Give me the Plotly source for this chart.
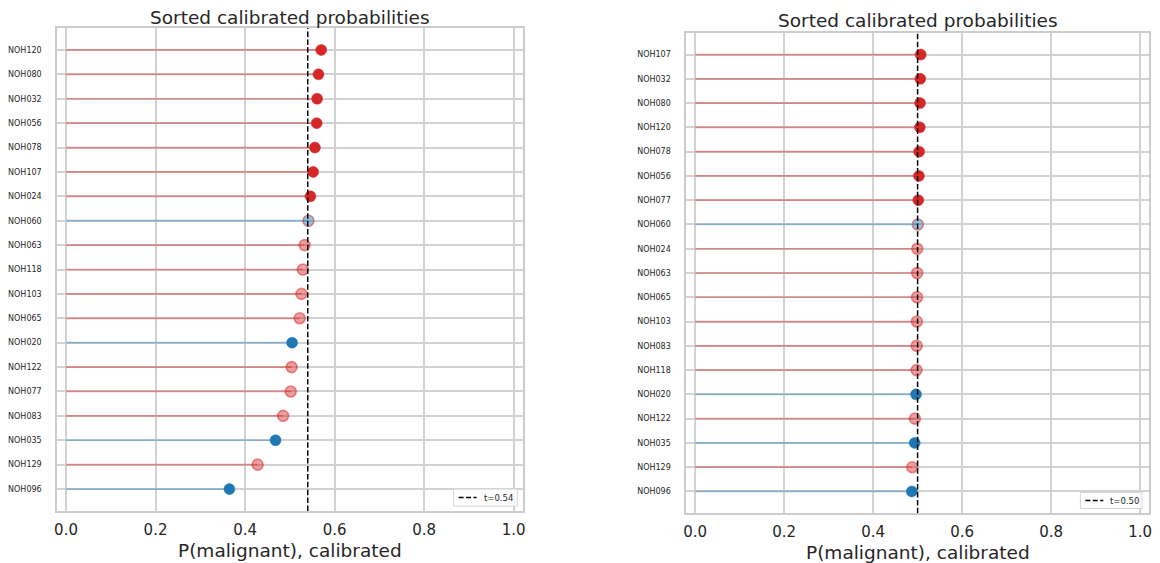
import plotly.graph_objects as go

# ---------------- data ----------------
left_ids = ["NOH120", "NOH080", "NOH032", "NOH056", "NOH078", "NOH107", "NOH024",
            "NOH060", "NOH063", "NOH118", "NOH103", "NOH065", "NOH020", "NOH122",
            "NOH077", "NOH083", "NOH035", "NOH129", "NOH096"]
left_probs = [0.570, 0.564, 0.561, 0.560, 0.556, 0.552, 0.546,
              0.5415, 0.533, 0.529, 0.526, 0.522, 0.505, 0.504,
              0.502, 0.485, 0.468, 0.428, 0.365]
left_threshold = 0.54

right_ids = ["NOH107", "NOH032", "NOH080", "NOH120", "NOH078", "NOH056", "NOH077",
             "NOH060", "NOH024", "NOH063", "NOH065", "NOH103", "NOH083", "NOH118",
             "NOH020", "NOH122", "NOH035", "NOH129", "NOH096"]
right_probs = [0.507, 0.506, 0.5055, 0.505, 0.5035, 0.503, 0.5015,
               0.5005, 0.4992, 0.499, 0.4987, 0.4984, 0.4980, 0.4977,
               0.4965, 0.4940, 0.4935, 0.4880, 0.4870]
right_threshold = 0.50

benign_ids = ["NOH060", "NOH020", "NOH035", "NOH096"]

title_text = "Sorted calibrated probabilities"
xlabel_text = "P(malignant), calibrated"
x_ticks = [0.0, 0.2, 0.4, 0.6, 0.8, 1.0]

# ---------------- style ----------------
RED = (214, 39, 40)
BLUE = (31, 119, 180)
FONT = "DejaVu Sans"
TXT = "#262626"
GRID = "#d2d2d2"
SPINE = "#cccccc"

# page has an 8px body margin: the figure is drawn at (8, 8)
W, H = 1152, 555
OFF = 8


def px(x):
    return (x - OFF) / W


def py(y):
    return 1 - (y - OFF) / H


def rgba(c, a):
    return f"rgba({c[0]},{c[1]},{c[2]},{a})"


YLO, YHI = -0.9, 18.9

fig = go.Figure()

panels = [
    dict(ids=left_ids, probs=left_probs, t=left_threshold, xa="x", ya="y"),
    dict(ids=right_ids, probs=right_probs, t=right_threshold, xa="x2", ya="y2"),
]

for p in panels:
    ids, probs, t = p["ids"], p["probs"], p["t"]
    n = len(ids)
    ypos = [n - 1 - k for k in range(n)]
    # stems
    for col, is_mal, a in ((RED, True, 0.45), (BLUE, False, 0.4)):
        xs, ys = [], []
        for i, v, yy in zip(ids, probs, ypos):
            if (i not in benign_ids) == is_mal:
                xs += [0, v, None]
                ys += [yy, yy, None]
        fig.add_trace(go.Scatter(x=xs, y=ys, mode="lines", xaxis=p["xa"], yaxis=p["ya"],
                                 line=dict(color=rgba(col, a), width=1.7),
                                 showlegend=False, hoverinfo="skip"))
    # markers
    fills, edges, widths = [], [], []
    for i, v in zip(ids, probs):
        mal = i not in benign_ids
        pred = v >= t
        col = RED if mal else BLUE
        if mal == pred:
            fills.append(rgba(col, 1.0))
            edges.append(rgba(col, 1.0))
            widths.append(0.5)
        else:
            fills.append(rgba(col, 0.45))
            edges.append(rgba(RED, 0.5))
            widths.append(1.6)
    fig.add_trace(go.Scatter(x=probs, y=ypos, mode="markers", xaxis=p["xa"], yaxis=p["ya"],
                             text=ids, hoverinfo="text+x",
                             marker=dict(size=11, color=fills,
                                         line=dict(color=edges, width=widths)),
                             showlegend=False))
    # threshold line
    fig.add_trace(go.Scatter(x=[t, t], y=[YLO, YHI], mode="lines", xaxis=p["xa"], yaxis=p["ya"],
                             line=dict(color="black", width=1.5, dash="5.5px,2.4px"),
                             name=f"t={t:.2f}", showlegend=False))

L_dom = [px(54.3), px(522.3)]
R_dom = [px(686.7), px(1152)]
L_ydom = [py(511), py(28)]
R_ydom = [py(513.3), py(32.7)]

xcommon = dict(range=[-0.02, 1.02], tickvals=x_ticks, ticktext=[f"{v:.1f}" for v in x_ticks],
               showgrid=True, gridcolor=GRID, gridwidth=1.5, zeroline=False,
               showline=True, mirror=True, linecolor=SPINE, linewidth=1.6,
               ticks="outside", ticklen=4, tickcolor="rgba(0,0,0,0)",
               tickfont=dict(family=FONT, size=15, color=TXT))


def ycommon(ids):
    n = len(ids)
    return dict(range=[YLO, YHI], tickvals=[n - 1 - k for k in range(n)], ticktext=ids,
                showgrid=True, gridcolor=GRID, gridwidth=1.5, zeroline=False,
                showline=True, mirror=True, linecolor=SPINE, linewidth=1.6,
                ticks="outside", ticklen=12, tickcolor="rgba(0,0,0,0)",
                tickfont=dict(family=FONT, size=8, color=TXT))


# manual legend boxes (matplotlib style, lower right)
legends = [
    dict(box=(453, 489, 517, 506), t=left_threshold),
    dict(box=(1083, 492.5, 1145, 508.5), t=right_threshold),
]
shapes, annotations = [], []
for lg in legends:
    x0, y0, x1, y1 = lg["box"]
    ym = (y0 + y1) / 2
    shapes.append(dict(type="rect", xref="paper", yref="paper",
                       x0=px(x0), x1=px(x1), y0=py(y1), y1=py(y0),
                       fillcolor="rgba(255,255,255,0.85)", line=dict(color="#d6d6d6", width=1)))
    shapes.append(dict(type="line", xref="paper", yref="paper",
                       x0=px(x0 + 5), x1=px(x0 + 23), y0=py(ym), y1=py(ym),
                       line=dict(color="black", width=1.5, dash="5px,2.4px")))
    annotations.append(dict(text=f"t={lg['t']:.2f}", x=px(x0 + 28), y=py(ym),
                            xref="paper", yref="paper", showarrow=False,
                            xanchor="left", yanchor="middle",
                            font=dict(family=FONT, size=8.5, color=TXT)))

annotations += [
    dict(text=title_text, x=(L_dom[0] + L_dom[1]) / 2, y=py(17), xref="paper", yref="paper",
         showarrow=False, xanchor="center", yanchor="middle",
         font=dict(family=FONT, size=18.5, color=TXT)),
    dict(text=title_text, x=(R_dom[0] + R_dom[1]) / 2, y=py(21), xref="paper", yref="paper",
         showarrow=False, xanchor="center", yanchor="middle",
         font=dict(family=FONT, size=18.5, color=TXT)),
    dict(text=xlabel_text, x=(L_dom[0] + L_dom[1]) / 2, y=py(550), xref="paper", yref="paper",
         showarrow=False, xanchor="center", yanchor="middle",
         font=dict(family=FONT, size=18.5, color=TXT)),
    dict(text=xlabel_text, x=(R_dom[0] + R_dom[1]) / 2, y=py(552), xref="paper", yref="paper",
         showarrow=False, xanchor="center", yanchor="middle",
         font=dict(family=FONT, size=18.5, color=TXT)),
]

fig.update_layout(
    width=W, height=H,
    margin=dict(l=0, r=0, t=0, b=0),
    paper_bgcolor="white", plot_bgcolor="white",
    showlegend=False,
    xaxis=dict(domain=L_dom, anchor="y", **xcommon),
    yaxis=dict(domain=L_ydom, anchor="x", **ycommon(left_ids)),
    xaxis2=dict(domain=R_dom, anchor="y2", **xcommon),
    yaxis2=dict(domain=R_ydom, anchor="x2", **ycommon(right_ids)),
    shapes=shapes,
    annotations=annotations,
)

fig.write_html("out.html")
